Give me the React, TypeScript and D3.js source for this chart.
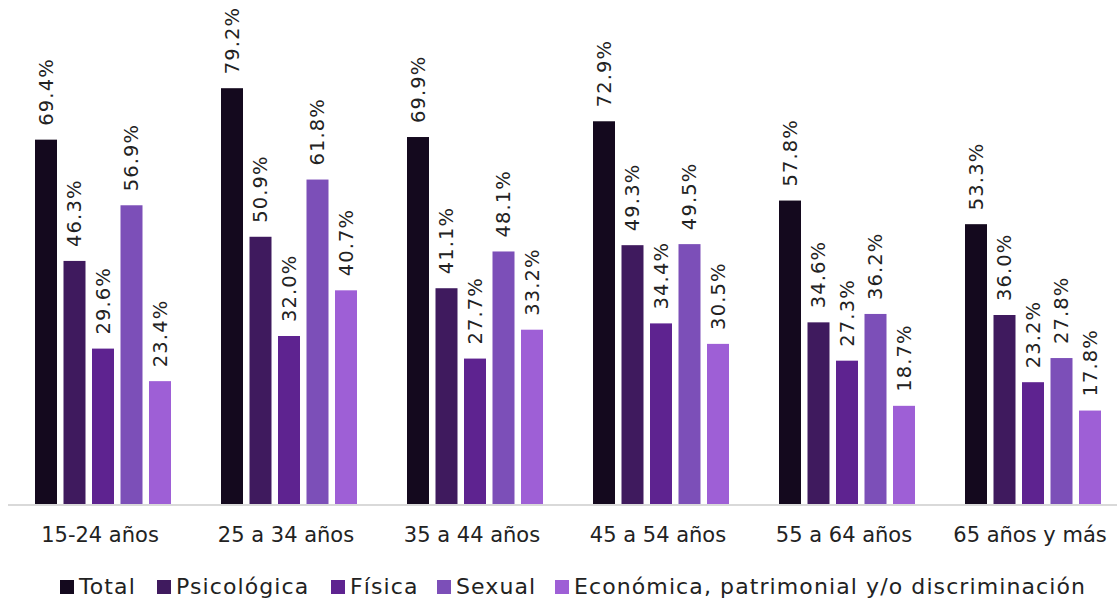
import React from "react";
import * as d3 from "d3";

const categories = ["15-24 años", "25 a 34 años", "35 a 44 años", "45 a 54 años", "55 a 64 años", "65 años y más"];
const seriesNames = ["Total", "Psicológica", "Física", "Sexual", "Económica, patrimonial y/o discriminación"];
const total = [69.4, 79.2, 69.9, 72.9, 57.8, 53.3];
const psicologica = [46.3, 50.9, 41.1, 49.3, 34.6, 36.0];
const fisica = [29.6, 32.0, 27.7, 34.4, 27.3, 23.2];
const sexual = [56.9, 61.8, 48.1, 49.5, 36.2, 27.8];
const economica = [23.4, 40.7, 33.2, 30.5, 18.7, 17.8];
const seriesValues = [total, psicologica, fisica, sexual, economica];
const colors = ["#14091e", "#3f1a5e", "#5e2390", "#7c4fb8", "#9e5fd6"];

const W = 1117;
const H = 601;
const FONT = "'DejaVu Sans', sans-serif";

export default function App() {
  const x0 = d3.scaleBand<string>().domain(categories).range([10, 1126]).padding(0);
  const x1 = d3.scaleBand<string>().domain(seriesNames).range([25, 161]).paddingInner(6.5 / 28.5).paddingOuter(0);
  const y = d3.scaleLinear().domain([0, 90]).range([504, 504 - 5.25 * 90]);

  const legendX = [60, 157, 331, 437, 555];

  return (
    <svg width={W} height={H} style={{ position: "absolute", left: 0, top: 0, background: "#fff" }} fontFamily={FONT}>
      <line x1={8} x2={W} y1={y(0) + 1} y2={y(0) + 1} stroke="#d9d9d9" strokeWidth={2} />
      {categories.map((c, ci) => (
        <g key={c}>
          {seriesNames.map((s, si) => {
            const v = seriesValues[si][ci];
            const bx = (x0(c) as number) + (x1(s) as number);
            const bw = x1.bandwidth();
            const cx = bx + bw / 2;
            const ty = y(v) - 14;
            return (
              <g key={s}>
                <rect x={bx} y={y(v)} width={bw} height={y(0) - y(v)} fill={colors[si]} />
                <text
                  transform={`translate(${cx},${ty}) rotate(-90)`}
                  dominantBaseline="central"
                  fontSize={19.5}
                  letterSpacing={1.1}
                  fill="#222"
                >
                  {v.toFixed(1) + "%"}
                </text>
              </g>
            );
          })}
          <text
            x={(x0(c) as number) + x0.bandwidth() / 2 - 3}
            y={535}
            textAnchor="middle"
            dominantBaseline="central"
            fontSize={21}
            fill="#222"
          >
            {c}
          </text>
        </g>
      ))}
      {seriesNames.map((s, si) => (
        <g key={s}>
          <rect x={legendX[si]} y={580} width={14} height={14} fill={colors[si]} />
          <text x={legendX[si] + 19} y={586} dominantBaseline="central" fontSize={22} letterSpacing={1.1} fill="#222">
            {s}
          </text>
        </g>
      ))}
    </svg>
  );
}
